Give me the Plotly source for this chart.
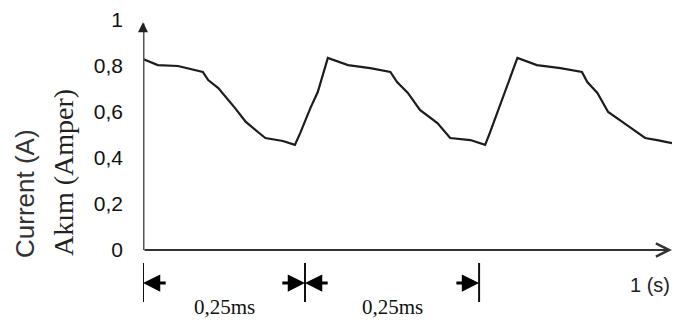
import plotly.graph_objects as go

# Current waveform: time (ms) and current (A)
time_ms = [0.000, 0.022, 0.052, 0.089, 0.097, 0.112, 0.137, 0.153, 0.171, 0.182,
           0.208, 0.226, 0.234, 0.249, 0.260, 0.275, 0.305, 0.338, 0.368, 0.378,
           0.394, 0.412, 0.438, 0.457, 0.487, 0.509, 0.516, 0.536, 0.557, 0.586,
           0.621, 0.653, 0.661, 0.676, 0.692, 0.720, 0.747, 0.765, 0.787]
current_a = [0.830, 0.804, 0.800, 0.774, 0.739, 0.704, 0.617, 0.557, 0.513, 0.487,
             0.474, 0.457, 0.509, 0.617, 0.687, 0.835, 0.804, 0.791, 0.774, 0.730,
             0.683, 0.609, 0.552, 0.487, 0.478, 0.457, 0.509, 0.665, 0.835, 0.804,
             0.791, 0.774, 0.730, 0.683, 0.600, 0.543, 0.487, 0.478, 0.465]

y_ticks = [0, 0.2, 0.4, 0.6, 0.8, 1.0]
y_tick_labels = ["0", "0,2", "0,4", "0,6", "0,8", "1"]

# Dimension markers below the time axis (ms) and their labels
dim_marks = [0.0, 0.241, 0.500]
dim_label = "0,25ms"
x_axis_label = "1 (s)"
y_title_en = "Current (A)"
y_title_tr = "Akım (Amper)"

W, H = 676, 323
L, R, T, B = 143, 4, 20, 73
PW, PH = W - L - R, H - T - B
X_MAX = 0.787


def px_x(px):
    return (px - L) / PW


def px_y(py):
    return (H - B - py) / PH


fig = go.Figure()
fig.add_trace(go.Scatter(
    x=time_ms, y=current_a, mode="lines",
    line=dict(color="#1c1c1c", width=2.2),
    hoverinfo="skip", showlegend=False,
))

annotations = []
shapes = []

# Vertical axis with a small arrow tip
shapes.append(dict(type="line", xref="x", yref="y", x0=0, x1=0, y0=0, y1=0.985,
                   line=dict(color="#555555", width=3)))
annotations.append(dict(
    x=0, y=0.99, ax=0, ay=8, xref="x", yref="y", axref="pixel", ayref="pixel",
    showarrow=True, arrowhead=2, arrowsize=0.8, arrowwidth=2.5,
    arrowcolor="#222222", text="",
))
# Horizontal axis with open chevron tip
annotations.append(dict(
    x=X_MAX, y=0, ax=0, ay=0, xref="x", yref="y", axref="x", ayref="y",
    showarrow=True, arrowhead=5, arrowsize=1.3, arrowwidth=2,
    arrowcolor="#333333", text="",
))

# Dimension lines
line_top, line_bot = px_y(263), px_y(302)
for xm in dim_marks:
    shapes.append(dict(type="line", xref="x", yref="paper",
                       x0=xm, x1=xm, y0=line_top, y1=line_bot,
                       line=dict(color="#111111", width=2)))

arrow_y = px_y(283)
arrow_len = 0.036
for i in range(len(dim_marks) - 1):
    a, b = dim_marks[i], dim_marks[i + 1]
    # left arrowhead pointing at the start line
    annotations.append(dict(
        x=a, y=arrow_y, ax=a + arrow_len, ay=0,
        xref="x", yref="paper", axref="x", ayref="pixel",
        showarrow=True, arrowhead=2, arrowsize=1.15, arrowwidth=3,
        arrowcolor="#000000", text="",
    ))
    # right arrowhead pointing at the end line
    annotations.append(dict(
        x=b, y=arrow_y, ax=b - arrow_len, ay=0,
        xref="x", yref="paper", axref="x", ayref="pixel",
        showarrow=True, arrowhead=2, arrowsize=1.15, arrowwidth=3,
        arrowcolor="#000000", text="",
    ))
    annotations.append(dict(
        x=(a + b) / 2, y=px_y(307), xref="x", yref="paper",
        text=dim_label, showarrow=False,
        font=dict(family="Liberation Serif", size=21, color="#111111"),
        xanchor="center", yanchor="middle",
    ))

annotations.append(dict(
    x=px_x(650), y=px_y(285), xref="paper", yref="paper",
    text=x_axis_label, showarrow=False,
    font=dict(family="Liberation Sans", size=20, color="#222222"),
    xanchor="center", yanchor="middle",
))
annotations.append(dict(
    x=px_x(25), y=px_y(194), xref="paper", yref="paper",
    text=y_title_en, textangle=-90, showarrow=False,
    font=dict(family="Liberation Sans", size=26, color="#333333"),
    xanchor="center", yanchor="middle",
))
annotations.append(dict(
    x=px_x(64), y=px_y(173), xref="paper", yref="paper",
    text=y_title_tr, textangle=-90, showarrow=False,
    font=dict(family="Liberation Serif", size=28, color="#222222"),
    xanchor="center", yanchor="middle",
))

fig.update_layout(
    width=W, height=H,
    margin=dict(l=L, r=R, t=T, b=B),
    paper_bgcolor="white", plot_bgcolor="white",
    xaxis=dict(range=[0, X_MAX], showgrid=False, zeroline=False,
               showticklabels=False, ticks="", showline=False, fixedrange=True),
    yaxis=dict(range=[0, 1.0], showgrid=False, zeroline=False,
               tickvals=y_ticks, ticktext=y_tick_labels, ticks="",
               ticklabelstandoff=19, showline=False, fixedrange=True,
               tickfont=dict(family="Liberation Sans", size=21, color="#111111")),
    annotations=annotations,
    shapes=shapes,
)

fig.write_html("out.html")
